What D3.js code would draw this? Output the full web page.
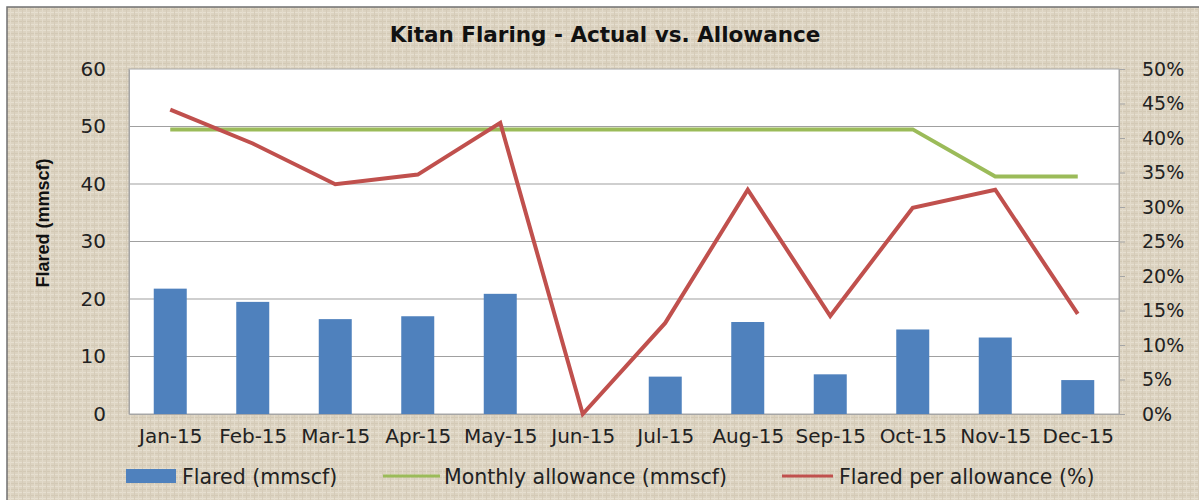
<!DOCTYPE html>
<html><head><meta charset="utf-8">
<script src="https://cdn.jsdelivr.net/npm/d3@7"></script>
<style>body{margin:0;background:#fff}svg{display:block}</style>
</head><body>
<script>
const months = ["Jan-15","Feb-15","Mar-15","Apr-15","May-15","Jun-15","Jul-15","Aug-15","Sep-15","Oct-15","Nov-15","Dec-15"];
const flared = [21.8,19.5,16.5,17.0,20.9,0,6.5,16.0,6.9,14.7,13.3,5.9];
const allowance = [49.5,49.5,49.5,49.5,49.5,49.5,49.5,49.5,49.5,49.5,41.3,41.3];
const pctFlared = [0.441,0.392,0.333,0.347,0.422,0.0,0.132,0.325,0.142,0.299,0.325,0.145];
const leftTicks = [0,10,20,30,40,50,60];
const rightTicks = [0,0.05,0.10,0.15,0.20,0.25,0.30,0.35,0.40,0.45,0.50];
const titleText = "Kitan Flaring - Actual vs. Allowance";
const yTitle = "Flared (mmscf)";
const legendLabels = ["Flared (mmscf)","Monthly allowance (mmscf)","Flared per allowance (%)"];

const W=1199,H=500;
const m={l:129,r:1119,t:69,b:414};
const svg=d3.select("body").append("svg").attr("width",W).attr("height",H);
const defs=svg.append("defs");
const pat=defs.append("pattern").attr("id","linen").attr("width",8).attr("height",6).attr("patternUnits","userSpaceOnUse");
pat.append("rect").attr("width",8).attr("height",6).attr("fill","#dcd3c1");
pat.append("rect").attr("x",0).attr("y",0).attr("width",8).attr("height",1).attr("fill","#e6dfd0");
pat.append("rect").attr("x",0).attr("y",3).attr("width",8).attr("height",1).attr("fill","#d3c9b5");
pat.append("rect").attr("x",2).attr("y",0).attr("width",1).attr("height",6).attr("fill","#e3dbcb");
pat.append("rect").attr("x",6).attr("y",0).attr("width",1).attr("height",6).attr("fill","#d5cbb8");

svg.append("rect").attr("x",7).attr("y",7).attr("width",W).attr("height",H).attr("fill","url(#linen)").attr("stroke","#707070").attr("stroke-width",1.5);

const x=d3.scaleBand().domain(months).range([m.l,m.r]).paddingInner(0.6).paddingOuter(0.3);
const xc=d3.scalePoint().domain(months).range([m.l,m.r]).padding(0.5);
const y=d3.scaleLinear().domain([0,60]).range([m.b,m.t]);
const y2=d3.scaleLinear().domain([0,0.5]).range([m.b,m.t]);

svg.append("rect").attr("x",m.l).attr("y",m.t).attr("width",m.r-m.l).attr("height",m.b-m.t).attr("fill","#fff").attr("stroke","#a6a6a6").attr("stroke-width",1);

// gridlines
svg.append("g").selectAll("line").data(leftTicks.slice(1,-1)).join("line")
  .attr("x1",m.l).attr("x2",m.r).attr("y1",d=>y(d)).attr("y2",d=>y(d))
  .attr("stroke","#a0a0a0").attr("stroke-width",1.2);

const font="'DejaVu Sans', sans-serif";
// left axis
const gl=svg.append("g").attr("transform",`translate(${m.l},0)`)
  .call(d3.axisLeft(y).tickValues(leftTicks).tickSize(0).tickPadding(23));
gl.select(".domain").attr("stroke","#a6a6a6");
gl.selectAll("text").attr("font-family",font).attr("font-size",20).attr("fill","#222");

// right axis
const gr=svg.append("g").attr("transform",`translate(${m.r},0)`)
  .call(d3.axisRight(y2).tickValues(rightTicks).tickFormat(d3.format(".0%")).tickSize(6).tickPadding(17));
gr.select(".domain").attr("stroke","#a6a6a6");
gr.selectAll(".tick line").attr("stroke","#a6a6a6");
gr.selectAll("text").attr("font-family",font).attr("font-size",19).attr("fill","#222");

// x axis
const gx=svg.append("g").attr("transform",`translate(0,${m.b})`)
  .call(d3.axisBottom(xc).tickSize(0).tickPadding(15));
gx.select(".domain").attr("stroke","#a6a6a6");
gx.selectAll("text").attr("font-family",font).attr("font-size",20).attr("fill","#222");

// bars
svg.append("g").selectAll("rect").data(months).join("rect")
  .attr("x",d=>x(d)).attr("width",x.bandwidth())
  .attr("y",(d,i)=>y(flared[i])).attr("height",(d,i)=>y(0)-y(flared[i]))
  .attr("fill","#4f81bd");

// allowance line
svg.append("path").datum(allowance)
  .attr("d",d3.line().x((d,i)=>xc(months[i])).y(d=>y(d)))
  .attr("fill","none").attr("stroke","#9bbb59").attr("stroke-width",4);

// pct line
svg.append("path").datum(pctFlared)
  .attr("d",d3.line().x((d,i)=>xc(months[i])).y(d=>y2(d)))
  .attr("fill","none").attr("stroke","#c0504d").attr("stroke-width",4).attr("stroke-linejoin","miter");

// title
svg.append("text").attr("x",605).attr("y",42).attr("text-anchor","middle")
  .attr("font-family",font).attr("font-weight","bold").attr("font-size",21.5).attr("fill","#111").text(titleText);

// y title
svg.append("text").attr("transform","translate(49,223) rotate(-90)").attr("text-anchor","middle")
  .attr("font-family","'Liberation Sans Narrow','Liberation Sans',sans-serif").attr("font-weight","bold").attr("font-size",18).attr("fill","#111").text(yTitle);

// legend
const lg=svg.append("g").attr("font-family",font).attr("font-size",20.5).attr("fill","#222");
lg.append("rect").attr("x",126).attr("y",469).attr("width",50).attr("height",14).attr("fill","#4f81bd");
lg.append("text").attr("x",182).attr("y",484).text(legendLabels[0]);
lg.append("line").attr("x1",383).attr("x2",440).attr("y1",476).attr("y2",476).attr("stroke","#9bbb59").attr("stroke-width",3);
lg.append("text").attr("x",444).attr("y",484).text(legendLabels[1]);
lg.append("line").attr("x1",782).attr("x2",833).attr("y1",476).attr("y2",476).attr("stroke","#c0504d").attr("stroke-width",3);
lg.append("text").attr("x",839).attr("y",484).text(legendLabels[2]);
</script>
</body></html>
